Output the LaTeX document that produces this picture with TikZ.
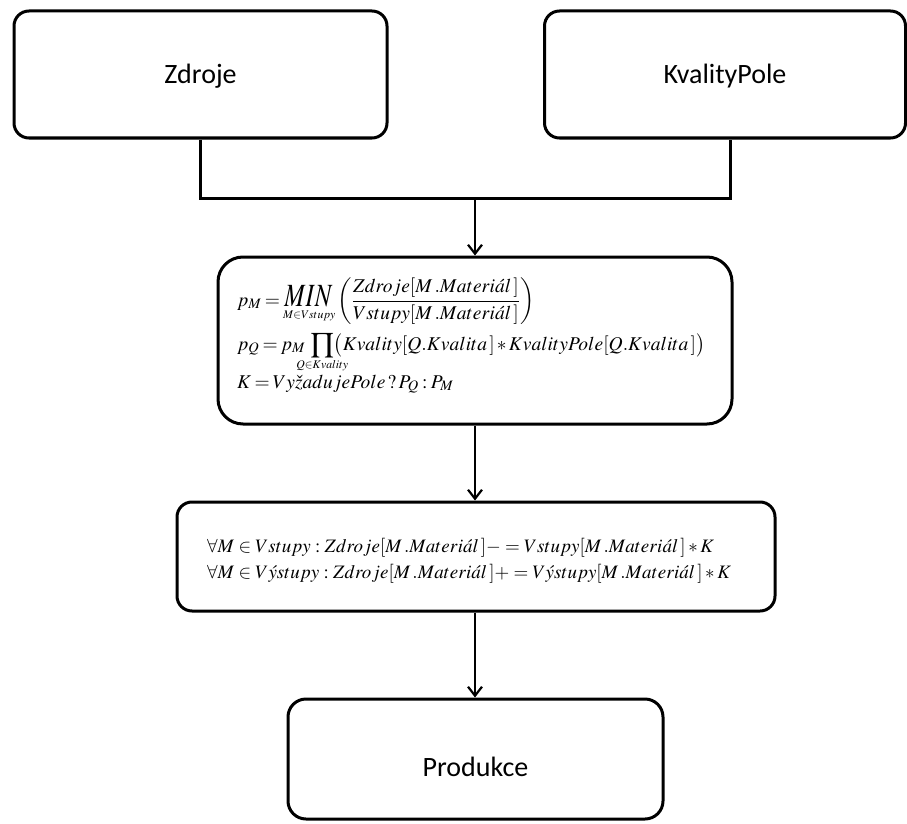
\documentclass[tikz,border=0pt]{standalone}
\usepackage{mathptmx}
\usepackage{graphicx}
\usepackage[no-math]{fontspec}
\setmainfont{Carlito}
\usetikzlibrary{arrows.meta}
\newcommand{\tightmath}{\thickmuskip=3mu plus 2mu\medmuskip=2mu\relax}
\tikzset{
  rbox/.style={draw, line width=3pt, rounded corners=#1, inner sep=0pt},
  rbox/.default=15pt,
  lbl/.style={anchor=base, inner sep=0pt, font=\fontsize{28}{30}\selectfont},
  fml/.style={anchor=base west, inner sep=0pt},
  tree/.style={line width=3pt},
  arr/.style={line width=2.2pt, -{Straight Barb[length=9pt,width=14pt,line width=2.2pt]}},
}
\begin{document}
\begin{tikzpicture}[x=1pt,y=-1pt]
\useasboundingbox (0,0) rectangle (907,824);
% boxes
\node[rbox, minimum width=373pt, minimum height=127pt] (zdroje) at (200.5,74.5) {};
\node[rbox, minimum width=361pt, minimum height=127pt] (kvality) at (725,74.5) {};
\node[rbox=25pt, minimum width=514pt, minimum height=167pt] (f1) at (475,340.5) {};
\node[rbox, minimum width=598pt, minimum height=109pt] (f2) at (476,556.5) {};
\node[rbox=18pt, minimum width=375pt, minimum height=120pt] (prod) at (475.5,759) {};
% labels
\node[lbl] (tz) at (200.5,84) {Zdroje};
\node[lbl] (tk) at (725,84) {KvalityPole};
\node[lbl] (tp) at (475.5,776) {Produkce};
% formulas box 1
\node[fml] (f1a) at (237,306) {\fontsize{19.5}{20}\selectfont\tightmath
  $\displaystyle p_M = \mathop{\scalebox{0.9}[1.2]{\fontsize{27}{27}\selectfont$MIN$}}\limits_{\scriptscriptstyle M\in Vstupy}\left(\frac{Zdroje[M\,.Materi\acute{a}l\,]}{Vstupy[M\,.Materi\acute{a}l\,]}\right)$};
\node[fml] (f1b) at (237,350) {\fontsize{19.5}{20}\selectfont\tightmath
  $\displaystyle p_Q = p_M\;\prod_{\makebox[0pt]{$\scriptscriptstyle Q\in Kvality$}}\bigl(Kvality[Q.Kvalita\,]*KvalityPole[Q.Kvalita\,]\bigr)$};
\node[fml] (f1c) at (237,388) {\fontsize{19.5}{20}\selectfont\tightmath
  $K = Vy\check{z}adujePole\,?\,P_Q : P_M$};
% formulas box 2
\node[fml] (f2a) at (207,552) {\fontsize{19}{19}\selectfont
  $\forall M \in Vstupy : Zdroje[M\,.Materi\acute{a}l\,]- =Vstupy[M\,.Materi\acute{a}l\,]*K$};
\node[fml] (f2b) at (207,578) {\fontsize{19}{19}\selectfont
  $\forall M \in V\acute{y}stupy : Zdroje[M\,.Materi\acute{a}l\,]+ =V\acute{y}stupy[M\,.Materi\acute{a}l\,]*K$};
% connectors
\coordinate (join) at (475,198);
\draw[tree] (zdroje.south) |- (join) -| ([xshift=5pt]kvality.south);
\draw[arr] (join) -- (f1.north -| join);
\draw[arr] (f1.south -| join) -- (f2.north -| join);
\draw[arr] (f2.south -| join) -- (prod.north -| join);
\end{tikzpicture}
\end{document}
